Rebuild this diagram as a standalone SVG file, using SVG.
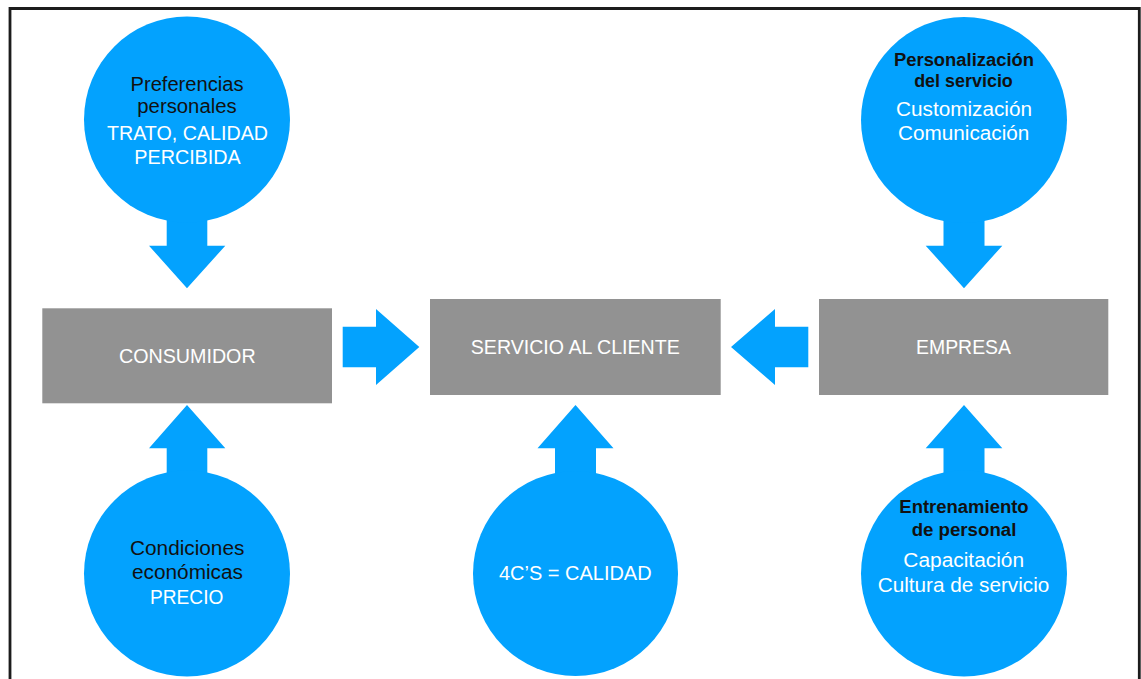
<svg xmlns="http://www.w3.org/2000/svg" width="1141" height="679" viewBox="0 0 1141 679">
  <style>
    .bubble { fill: #03a2fe; }
    .box { fill: #929292; }
    .arrow { fill: #03a2fe; }
    text { font-family: "Liberation Sans", Arial, Helvetica, sans-serif; font-size: 19.5px; text-anchor: middle; }
    .head { fill: #111111; }
    .bold { font-weight: bold; font-size: 17.5px; }
    .light { fill: #ffffff; }
  </style>

  <rect width="1141" height="679" fill="#ffffff"/>
  <!-- frame -->
  <path d="M10,679 V8.5 H1139.3 V679" fill="none" stroke="#1c1c1c" stroke-width="2.8"/>

  <!-- connectors: block arrows -->
  <g id="connectors">
    <!-- preferencias -> consumidor -->
    <path class="arrow" d="M166.7,210 H207.3 V245.7 H225.3 L187,288.3 L149,245.7 H166.7 Z"/>
    <!-- condiciones -> consumidor -->
    <path class="arrow" d="M166.7,485 H207.3 V448.3 H225.3 L187,405 L149,448.3 H166.7 Z"/>
    <!-- consumidor -> servicio -->
    <path class="arrow" d="M342.7,326.7 H376 V309 L419.3,347 L376,385 V367.3 H342.7 Z"/>
    <!-- empresa -> servicio -->
    <path class="arrow" d="M808.3,326.7 H775 V309 L731,347 L775,385 V367.3 H808.3 Z"/>
    <!-- 4C's -> servicio -->
    <path class="arrow" d="M555,485 H596 V448.3 H613.5 L575.5,405 L537.5,448.3 H555 Z"/>
    <!-- personalizacion -> empresa -->
    <path class="arrow" d="M943.5,210 H984.5 V245.7 H1002.3 L964,288.3 L925.7,245.7 H943.5 Z"/>
    <!-- entrenamiento -> empresa -->
    <path class="arrow" d="M943.5,485 H984.5 V448.3 H1002.3 L964,405 L925.7,448.3 H943.5 Z"/>
  </g>

  <g id="preferencias">
    <circle class="bubble" cx="187" cy="119.5" r="103"/>
    <text class="head" x="187" y="90.7" textLength="113" lengthAdjust="spacingAndGlyphs">Preferencias</text>
    <text class="head" x="187" y="113.3" textLength="99.4" lengthAdjust="spacingAndGlyphs">personales</text>
    <text class="light" x="187.5" y="140" textLength="161" lengthAdjust="spacingAndGlyphs">TRATO, CALIDAD</text>
    <text class="light" x="187.5" y="164" textLength="106.4" lengthAdjust="spacingAndGlyphs">PERCIBIDA</text>
  </g>

  <g id="personalizacion">
    <circle class="bubble" cx="964" cy="120" r="103"/>
    <text class="head bold" x="964" y="65.7" textLength="140" lengthAdjust="spacingAndGlyphs">Personalización</text>
    <text class="head bold" x="963.5" y="87.3" textLength="98.7" lengthAdjust="spacingAndGlyphs">del servicio</text>
    <text class="light" x="964" y="115.7" textLength="136" lengthAdjust="spacingAndGlyphs">Customización</text>
    <text class="light" x="963.7" y="140" textLength="131.3" lengthAdjust="spacingAndGlyphs">Comunicación</text>
  </g>

  <g id="consumidor">
    <rect class="box" x="42.3" y="308.3" width="289.7" height="95"/>
    <text class="light" x="187.3" y="362.7" textLength="136.7" lengthAdjust="spacingAndGlyphs">CONSUMIDOR</text>
  </g>

  <g id="servicio">
    <rect class="box" x="430" y="299" width="290.7" height="96"/>
    <text class="light" x="575.3" y="354" textLength="209" lengthAdjust="spacingAndGlyphs">SERVICIO AL CLIENTE</text>
  </g>

  <g id="empresa">
    <rect class="box" x="819" y="299" width="289.3" height="96"/>
    <text class="light" x="963.5" y="354" textLength="95" lengthAdjust="spacingAndGlyphs">EMPRESA</text>
  </g>

  <g id="condiciones">
    <circle class="bubble" cx="187" cy="573.5" r="103"/>
    <text class="head" x="187.2" y="555" textLength="114.3" lengthAdjust="spacingAndGlyphs">Condiciones</text>
    <text class="head" x="187.5" y="579" textLength="111" lengthAdjust="spacingAndGlyphs">económicas</text>
    <text class="light" x="186.7" y="604" textLength="73.3" lengthAdjust="spacingAndGlyphs">PRECIO</text>
  </g>

  <g id="calidad">
    <circle class="bubble" cx="575.5" cy="573.5" r="102.5"/>
    <text class="light" x="575.3" y="580" textLength="152.7" lengthAdjust="spacingAndGlyphs">4C’S = CALIDAD</text>
  </g>

  <g id="entrenamiento">
    <circle class="bubble" cx="964" cy="573.5" r="103"/>
    <text class="head bold" x="964" y="512.7" textLength="129.3" lengthAdjust="spacingAndGlyphs">Entrenamiento</text>
    <text class="head bold" x="964" y="536" textLength="104.7" lengthAdjust="spacingAndGlyphs">de personal</text>
    <text class="light" x="963.7" y="566.7" textLength="120.7" lengthAdjust="spacingAndGlyphs">Capacitación</text>
    <text class="light" x="963.5" y="591.7" textLength="171.6" lengthAdjust="spacingAndGlyphs">Cultura de servicio</text>
  </g>
</svg>
